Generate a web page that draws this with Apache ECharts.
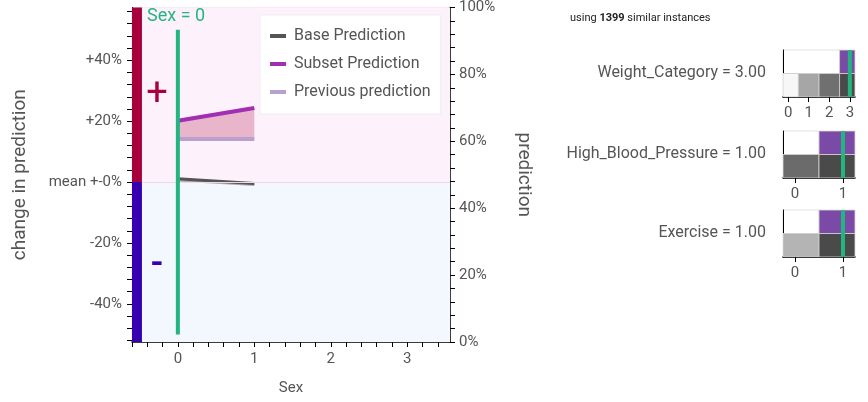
<!DOCTYPE html>
<html><head><meta charset="utf-8">
<script src="https://cdn.jsdelivr.net/npm/echarts@6/dist/echarts.min.js"></script>
<style>html,body{margin:0;padding:0;background:#fff}#c{width:868px;height:402px}</style>
</head><body><div id="c"></div>
<script>
// ---- main chart data ----
const featureName = 'Sex';
const featureValue = 0;
const xCategories = [0, 1];
const basePrediction = [0.011, -0.005];
const baseBand = [0.002, -0.013];
const subsetPrediction = [0.201, 0.243];
const previousPrediction = [0.141, 0.141];
const markerRange = [-0.5, 0.5];
const xTickLabels = [0, 1, 2, 3];
const changeTickLabels = [-0.4, -0.2, 0, 0.2, 0.4];
const predTickLabels = [0, 0.2, 0.4, 0.6, 0.8, 1];
const instanceCount = 1399;

// ---- mini charts data ----
const weightCats = [0, 1, 2, 3];
const weightAll = [0, 0.47, 0.78, 1];
const weightSubset = [0, 0, 0, 1];
const weightValue = 3;
const hbpCats = [0, 1];
const hbpAll = [0.81, 1];
const hbpSubset = [0, 1];
const hbpValue = 1;
const exCats = [0, 1];
const exAll = [0.39, 1];
const exSubset = [0, 1];
const exValue = 1;

const FONT = 'Roboto';
const GREEN = '#22b57f';
const CRIMSON = '#a8003b';
const INDIGO = '#3600b0';

function steps(a, b, s) { const r = []; for (let i = 0; ; i++) { const v = +(a + i * s).toFixed(6); if (v > b + 1e-9) break; r.push(v); } return r; }
const xTicks = steps(-0.6, 3.4, 0.2);
const leftTicks = steps(-0.52, 0.56, 0.04);
const rightTicks = steps(0, 1, 0.04);

const chart = echarts.init(document.getElementById('c'), null, { renderer: 'canvas' });

function bandRender(lower, upper, color) {
  return function (params, api) {
    if (params.dataIndex > 0) return;
    const pts = [];
    xCategories.forEach((x, i) => pts.push(api.coord([x, upper[i]])));
    for (let i = xCategories.length - 1; i >= 0; i--) pts.push(api.coord([xCategories[i], lower[i]]));
    return { type: 'polygon', shape: { points: pts }, style: { fill: color } };
  };
}

function cellRender(params, api) {
  const x = api.value(0), row = api.value(1), v = api.value(2);
  const p0 = api.coord([x - 0.5, row]), p1 = api.coord([x + 0.5, row + 1]);
  let fill;
  if (row === 0) { const g = Math.round(247 - v * 173); fill = 'rgb(' + g + ',' + g + ',' + g + ')'; }
  else { if (!v) return; fill = '#7a4aa6'; }
  const cs = params.coordSys;
  const rect = echarts.graphic.clipRectByRect(
    { x: p0[0], y: p1[1], width: p1[0] - p0[0], height: p0[1] - p1[1] },
    { x: cs.x, y: cs.y, width: cs.width, height: cs.height });
  if (!rect) return;
  return { type: 'rect', shape: rect, style: { fill: fill, stroke: 'rgba(205,205,205,0.9)', lineWidth: 1 } };
}

function cellData(cats, all, subset) {
  const d = [];
  cats.forEach((c, i) => { d.push([c, 0, all[i]]); d.push([c, 1, subset[i]]); });
  return d;
}

const minis = [
  { top: 50, cats: weightCats, all: weightAll, subset: weightSubset, value: weightValue, max: 3.25, label: 'Weight_Category = 3.00' },
  { top: 131, cats: hbpCats, all: hbpAll, subset: hbpSubset, value: hbpValue, max: 1.25, label: 'High_Blood_Pressure = 1.00' },
  { top: 210, cats: exCats, all: exAll, subset: exSubset, value: exValue, max: 1.25, label: 'Exercise = 1.00' }
];

const grids = [{ left: 132, right: 418, top: 5, bottom: 60, show: true, borderColor: '#ebe3eb', borderWidth: 1 }];
const xAxes = [{
  gridIndex: 0, type: 'value', min: -0.6, max: 3.56,
  axisLine: { onZero: false, lineStyle: { color: '#000', width: 1.5 } },
  axisTick: { customValues: xTicks, length: 5, lineStyle: { color: '#000' } },
  axisLabel: { customValues: xTickLabels, color: '#555', fontSize: 15, fontFamily: FONT, margin: 10 },
  splitLine: { show: false },
  name: featureName, nameLocation: 'middle', nameGap: 39,
  nameTextStyle: { fontSize: 15, color: '#555', fontFamily: FONT }
}];
const yAxes = [{
  gridIndex: 0, type: 'value', min: -0.525, max: 0.573, position: 'left',
  axisLine: { show: true, onZero: false, lineStyle: { color: '#000', width: 1 } },
  axisTick: { customValues: leftTicks, length: 5, lineStyle: { color: '#000' } },
  axisLabel: {
    customValues: changeTickLabels, color: '#555', fontSize: 15, fontFamily: FONT, margin: 10,
    formatter: v => Math.abs(v) < 1e-9 ? 'mean +-0%' : (v > 0 ? '+' : '') + Math.round(v * 100) + '%'
  },
  splitLine: { show: false },
  name: 'change in prediction', nameLocation: 'middle', nameGap: 102, nameRotate: 90,
  nameTextStyle: { fontSize: 19, color: '#555', fontFamily: FONT }
}, {
  gridIndex: 0, type: 'value', min: 0, max: 1, position: 'right',
  axisLine: { show: true, onZero: false, lineStyle: { color: '#000', width: 1.5 } },
  axisTick: { customValues: rightTicks, length: 5, lineStyle: { color: '#000' } },
  axisLabel: {
    customValues: predTickLabels, color: '#555', fontSize: 15, fontFamily: FONT, margin: 9,
    formatter: v => Math.round(v * 100) + '%'
  },
  splitLine: { show: false },
  name: 'prediction', nameLocation: 'middle', nameGap: 64, nameRotate: -90,
  nameTextStyle: { fontSize: 19, color: '#555', fontFamily: FONT }
}];

const series = [
  {
    type: 'line', name: 'bg', xAxisIndex: 0, yAxisIndex: 0, data: [], silent: true,
    markArea: {
      silent: true,
      data: [
        [{ xAxis: -0.47, yAxis: 0, itemStyle: { color: '#fdf2fb' } }, { xAxis: 3.56, yAxis: 0.573 }],
        [{ xAxis: -0.47, yAxis: -0.525, itemStyle: { color: '#f3f7fe' } }, { xAxis: 3.56, yAxis: 0 }],
        [{ xAxis: -0.6, yAxis: 0, itemStyle: { color: CRIMSON } }, { xAxis: -0.47, yAxis: 0.573 }],
        [{ xAxis: -0.6, yAxis: -0.525, itemStyle: { color: INDIGO } }, { xAxis: -0.47, yAxis: 0 }]
      ]
    },
    markLine: {
      silent: true, symbol: 'none', label: { show: false },
      lineStyle: { color: '#ecd8e6', width: 1, type: 'solid' },
      data: [[{ xAxis: -0.47, yAxis: 0 }, { xAxis: 3.56, yAxis: 0 }]]
    }
  },
  { type: 'custom', name: 'subsetBand', xAxisIndex: 0, yAxisIndex: 0, data: [[0, 0]], renderItem: bandRender(previousPrediction, subsetPrediction, '#e9b5ca'), silent: true, z: 3 },
  { type: 'custom', name: 'baseBand', xAxisIndex: 0, yAxisIndex: 0, data: [[0, 0]], renderItem: bandRender(baseBand, basePrediction, 'rgba(130,130,130,0.65)'), silent: true, z: 3 },
  {
    type: 'line', name: 'Previous prediction', xAxisIndex: 0, yAxisIndex: 0, showSymbol: false, symbol: 'none',
    data: xCategories.map((x, i) => [x, previousPrediction[i]]), lineStyle: { color: '#b9a0cf', width: 4 }, itemStyle: { color: '#b9a0cf' }, z: 4
  },
  {
    type: 'line', name: 'Subset Prediction', xAxisIndex: 0, yAxisIndex: 0, showSymbol: false, symbol: 'none',
    data: xCategories.map((x, i) => [x, subsetPrediction[i]]), lineStyle: { color: '#a22eb4', width: 4 }, itemStyle: { color: '#a22eb4' }, z: 4
  },
  {
    type: 'line', name: 'Base Prediction', xAxisIndex: 0, yAxisIndex: 0, showSymbol: false, symbol: 'none',
    data: xCategories.map((x, i) => [x, basePrediction[i]]), lineStyle: { color: '#555', width: 3 }, itemStyle: { color: '#555' }, z: 4
  },
  {
    type: 'line', name: 'marker', xAxisIndex: 0, yAxisIndex: 0, showSymbol: false, symbol: 'none',
    data: [[featureValue, markerRange[0]], [featureValue, markerRange[1]]], lineStyle: { color: GREEN, width: 4 }, z: 5
  }
];

const graphics = [
  { type: 'text', x: 147, y: 16, style: { text: featureName + ' = ' + featureValue, font: '18px ' + FONT, fill: GREEN, verticalAlign: 'middle' }, z: 100 },
  { type: 'text', x: 157, y: 95, style: { text: '+', font: '38px ' + FONT, fill: CRIMSON, align: 'center', verticalAlign: 'middle' }, z: 100 },
  { type: 'text', x: 157, y: 264, style: { text: '-', font: 'bold 34px ' + FONT, fill: INDIGO, align: 'center', verticalAlign: 'middle' }, z: 100 },
  { type: 'text', x: 570, y: 18, style: { text: 'using {b|' + instanceCount + '} similar instances', font: '11px ' + FONT, fill: '#222', verticalAlign: 'middle', rich: { b: { fontWeight: 'bold', fontSize: 11, fontFamily: FONT, fill: '#222' } } }, z: 100 }
];

minis.forEach((m, k) => {
  const gi = k + 1;
  grids.push({ left: 783, width: 72, top: m.top, height: 47, show: true, borderColor: '#e2e2e2', borderWidth: 1 });
  xAxes.push({
    gridIndex: gi, type: 'value', min: -0.25, max: m.max,
    axisLine: { onZero: false, lineStyle: { color: '#000', width: 1.5 } },
    axisTick: { customValues: m.cats, length: 5, lineStyle: { color: '#000' } },
    axisLabel: { customValues: m.cats, color: '#555', fontSize: 15, fontFamily: FONT, margin: 9 },
    splitLine: { show: false }
  });
  yAxes.push({
    gridIndex: gi, type: 'value', min: 0, max: 2,
    axisLine: { show: true, onZero: false, lineStyle: { color: '#000', width: 1 } },
    axisTick: { show: false }, axisLabel: { show: false }, splitLine: { show: false }
  });
  series.push({
    type: 'custom', xAxisIndex: gi, yAxisIndex: gi + 1, data: cellData(m.cats, m.all, m.subset),
    renderItem: cellRender, silent: true, clip: true
  });
  series.push({
    type: 'line', xAxisIndex: gi, yAxisIndex: gi + 1, showSymbol: false, symbol: 'none', clip: true,
    data: [[m.value, 0], [m.value, 2]], lineStyle: { color: GREEN, width: 4 }, z: 5
  });
  graphics.push({ type: 'text', x: 766, y: m.top + 23, style: { text: m.label, font: '16px ' + FONT, fill: '#555', align: 'right', verticalAlign: 'middle' }, z: 100 });
});

chart.setOption({
  animation: false,
  textStyle: { fontFamily: FONT },
  grid: grids,
  xAxis: xAxes,
  yAxis: yAxes,
  legend: {
    data: ['Base Prediction', 'Subset Prediction', 'Previous prediction'],
    orient: 'vertical', left: 260, top: 15, padding: [12, 10, 13, 10], itemGap: 10,
    itemWidth: 16, itemHeight: 4, icon: 'rect', backgroundColor: '#fff',
    borderColor: '#eeeeee', borderWidth: 1, selectedMode: false,
    textStyle: { fontSize: 16, lineHeight: 18, height: 18, color: '#555', fontFamily: FONT, padding: [0, 0, 0, 3] },
    itemStyle: { borderWidth: 0 }
  },
  graphic: graphics,
  series: series
});
</script>
</body></html>
